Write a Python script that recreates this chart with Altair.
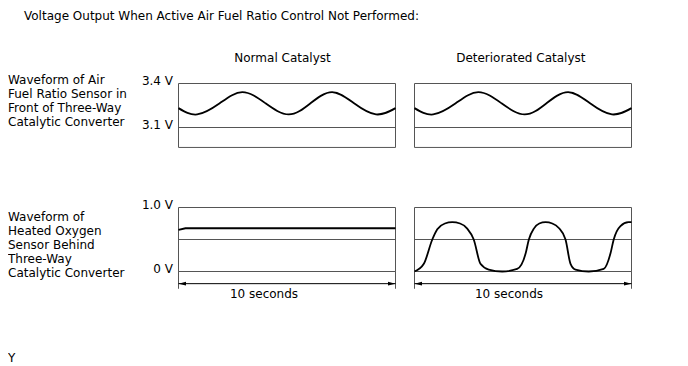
import altair as alt
import pandas as pd

# ---------------- data ----------------
title_text = "Voltage Output When Active Air Fuel Ratio Control Not Performed:"
column_titles = ["Normal Catalyst", "Deteriorated Catalyst"]
row_titles = [
    "Waveform of Air\nFuel Ratio Sensor in\nFront of Three-Way\nCatalytic Converter",
    "Waveform of\nHeated Oxygen\nSensor Behind\nThree-Way\nCatalytic Converter",
]
footer_text = "Y"
duration_text = "10 seconds"

time_span = [0.0, 10.0]                 # seconds shown in each panel

# upper row: air fuel ratio sensor (V)
af_tick_values = [3.1, 3.4]
af_tick_labels = ["3.1 V", "3.4 V"]
af_box = [2.964, 3.4]                   # panel frame bottom / top
af_ref_line = [3.1]
af_t = [0.0, 0.86, 1.9, 2.94, 4.01, 5.08, 6.08, 7.08, 8.09, 9.1, 10.0]
af_v = [3.232, 3.189, 3.265, 3.341, 3.265, 3.189, 3.265, 3.341, 3.265, 3.189, 3.232]

# lower row: heated oxygen sensor (V)
o2_tick_values = [0.0, 1.0]
o2_tick_labels = ["0 V", "1.0 V"]
o2_box = [0.0, 1.0]
o2_ref_lines = [0.5, 0.0]
o2_side_bottom = -0.27
o2_arrow_level = -0.19

o2_normal_t = [0.0, 0.32, 10.0]
o2_normal_v = [0.65, 0.677, 0.677]

o2_det_t = [0.0, 0.43, 0.82, 1.05, 1.4, 1.74, 2.1, 2.43, 2.73, 3.04, 3.42, 4.04, 4.73, 5.12,
            5.27, 5.5, 5.75, 6.04, 6.35, 6.65, 6.96, 7.19, 7.42, 8.03, 8.72, 9.03, 9.18, 9.49,
            9.86, 10.0]
o2_det_v = [0.0, 0.12, 0.5, 0.66, 0.75, 0.77, 0.75, 0.67, 0.5, 0.12, 0.03, 0.0, 0.04, 0.28,
            0.5, 0.67, 0.75, 0.77, 0.75, 0.68, 0.5, 0.12, 0.03, 0.0, 0.04, 0.28, 0.5, 0.71,
            0.77, 0.77]

# ---------------- layout / style ----------------
FONT = "DejaVu Sans"
FS = 12
FRAME = "#555555"
WAVE = "#000000"

X_RANGES = {"normal": [170.5, 387.5], "det": [406.5, 623.5]}
AF_Y_RANGE = [119.5, 75.5]     # maps af_tick_values
O2_Y_RANGE = [263.5, 199.5]    # maps o2_tick_values


def xs(panel):
    return alt.Scale(domain=time_span, range=X_RANGES[panel], nice=False, zero=False)


def ys(row):
    if row == "af":
        return alt.Scale(domain=af_tick_values, range=AF_Y_RANGE, nice=False, zero=False)
    return alt.Scale(domain=o2_tick_values, range=O2_Y_RANGE, nice=False, zero=False)


def X(field, panel):
    return alt.X(field, type="quantitative", scale=xs(panel), axis=None)


def Y(field, row):
    return alt.Y(field, type="quantitative", scale=ys(row), axis=None)


def label(txt, x, y, align="left", **kw):
    return alt.Chart(pd.DataFrame({"s": [txt]})).mark_text(
        font=FONT, fontSize=FS, align=align, baseline="alphabetic", color="black", **kw
    ).encode(x=alt.value(x), y=alt.value(y), text="s:N")


layers = []

# texts
layers.append(label(title_text, 16, 12))
for txt, cx in zip(column_titles, [274.5, 512.8]):
    layers.append(label(txt, cx, 54, align="center"))
for txt, ty in zip(row_titles, [76, 213]):
    layers.append(label(txt, 0, ty, lineBreak="\n", lineHeight=14))
layers.append(label(footer_text, 0, 354))

# tick labels at the left of the normal panels
layers.append(
    alt.Chart(pd.DataFrame({"v": af_tick_values, "s": af_tick_labels})).mark_text(
        font=FONT, fontSize=FS, align="right", baseline="alphabetic", dy=1, color="black"
    ).encode(x=alt.value(165), y=Y("v", "af"), text="s:N")
)
layers.append(
    alt.Chart(pd.DataFrame({"v": o2_tick_values, "s": o2_tick_labels})).mark_text(
        font=FONT, fontSize=FS, align="right", baseline="alphabetic", dy=1, color="black"
    ).encode(x=alt.value(165), y=Y("v", "o2"), text="s:N")
)

for panel, label_x in [("normal", 256), ("det", 501)]:
    # ---- upper panel ----
    layers.append(
        alt.Chart(pd.DataFrame({"t0": [time_span[0]], "t1": [time_span[1]],
                                "v0": [af_box[0]], "v1": [af_box[1]]}))
        .mark_rect(fill=None, stroke=FRAME, strokeWidth=1)
        .encode(x=X("t0", panel), x2="t1", y=Y("v0", "af"), y2="v1")
    )
    layers.append(
        alt.Chart(pd.DataFrame({"v": af_ref_line, "t0": [time_span[0]], "t1": [time_span[1]]}))
        .mark_rule(color=FRAME, strokeWidth=1)
        .encode(x=X("t0", panel), x2="t1", y=Y("v", "af"))
    )
    layers.append(
        alt.Chart(pd.DataFrame({"t": af_t, "v": af_v}))
        .mark_line(color=WAVE, strokeWidth=1.8, interpolate="natural")
        .encode(x=X("t", panel), y=Y("v", "af"))
    )

    # ---- lower panel ----
    layers.append(
        alt.Chart(pd.DataFrame({"t0": [time_span[0]], "t1": [time_span[1]],
                                "v0": [o2_box[0]], "v1": [o2_box[1]]}))
        .mark_rect(fill=None, stroke=FRAME, strokeWidth=1)
        .encode(x=X("t0", panel), x2="t1", y=Y("v0", "o2"), y2="v1")
    )
    layers.append(
        alt.Chart(pd.DataFrame({"v": o2_ref_lines, "t0": [time_span[0]] * 2,
                                "t1": [time_span[1]] * 2}))
        .mark_rule(color=FRAME, strokeWidth=1)
        .encode(x=X("t0", panel), x2="t1", y=Y("v", "o2"))
    )
    layers.append(
        alt.Chart(pd.DataFrame({"t": time_span, "v0": [o2_box[0]] * 2,
                                "v1": [o2_side_bottom] * 2}))
        .mark_rule(color=FRAME, strokeWidth=1)
        .encode(x=X("t", panel), y=Y("v0", "o2"), y2="v1")
    )
    layers.append(
        alt.Chart(pd.DataFrame({"t0": [time_span[0]], "t1": [time_span[1]],
                                "v": [o2_arrow_level]}))
        .mark_rule(color="black", strokeWidth=1)
        .encode(x=X("t0", panel), x2="t1", y=Y("v", "o2"))
    )
    layers.append(
        alt.Chart(pd.DataFrame({"t": [time_span[0]], "v": [o2_arrow_level]}))
        .mark_point(shape="M0,0L2,-0.5L2,0.5Z", filled=True, size=56, color="black", opacity=1)
        .encode(x=X("t", panel), y=Y("v", "o2"))
    )
    layers.append(
        alt.Chart(pd.DataFrame({"t": [time_span[1]], "v": [o2_arrow_level]}))
        .mark_point(shape="M0,0L-2,-0.5L-2,0.5Z", filled=True, size=56, color="black", opacity=1)
        .encode(x=X("t", panel), y=Y("v", "o2"))
    )
    layers.append(label(duration_text, label_x, 290, align="center"))

layers.append(
    alt.Chart(pd.DataFrame({"t": o2_normal_t, "v": o2_normal_v}))
    .mark_line(color=WAVE, strokeWidth=2)
    .encode(x=X("t", "normal"), y=Y("v", "o2"))
)
layers.append(
    alt.Chart(pd.DataFrame({"t": o2_det_t, "v": o2_det_v}))
    .mark_line(color=WAVE, strokeWidth=1.8, interpolate="monotone")
    .encode(x=X("t", "det"), y=Y("v", "o2"))
)

chart = (
    alt.layer(*layers)
    .resolve_scale(x="independent", y="independent")
    .properties(width=672, height=356, autosize=alt.AutoSizeParams(type="none"),
                padding=0, background="white")
    .configure_view(stroke=None)
)

chart.save("out.html", embed_options={"renderer": "svg", "actions": False})
